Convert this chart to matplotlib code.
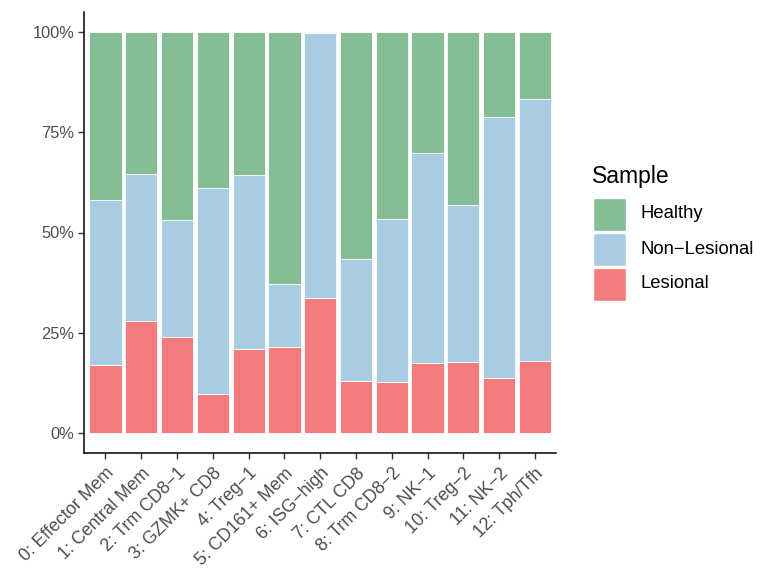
import numpy as np
import matplotlib
matplotlib.use("Agg")
import matplotlib.pyplot as plt
from matplotlib.patches import Rectangle
from matplotlib.ticker import FuncFormatter

plt.rcParams['font.family'] = ['Liberation Sans', 'DejaVu Sans']

clusters = ["0: Effector Mem", "1: Central Mem", "2: Trm CD8\u22121", "3: GZMK+ CD8",
            "4: Treg\u22121", "5: CD161+ Mem", "6: ISG\u2212high", "7: CTL CD8",
            "8: Trm CD8\u22122", "9: NK\u22121", "10: Treg\u22122", "11: NK\u22122",
            "12: Tph/Tfh"]
# fractions (%) per cluster, stacked bottom to top
lesional = [17.0, 27.9, 24.0, 9.8, 21.0, 21.5, 33.7, 13.0, 12.8, 17.5, 17.6, 13.8, 18.0]
non_lesional_top = [58.1, 64.7, 53.2, 61.0, 64.4, 37.2, 99.7, 43.4, 53.3, 69.8, 56.8, 78.8, 83.4]
lesional = np.array(lesional)
non_lesional = np.array(non_lesional_top) - lesional
healthy = 100 - lesional - non_lesional

samples = ["Healthy", "Non\u2212Lesional", "Lesional"]
colors = {"Healthy": "#85BE95", "Non\u2212Lesional": "#A8CDE2", "Lesional": "#F47B7B"}

fig = plt.figure(figsize=(7.61, 5.69), dpi=100)
ax = fig.add_axes([84/761, 1-453/569, (556.4-84)/761, (453-12)/569])

x = np.arange(1, len(clusters)+1)
kw = dict(width=0.9, edgecolor="white", linewidth=0.6)
ax.bar(x, lesional, color=colors["Lesional"], **kw)
ax.bar(x, non_lesional, bottom=lesional, color=colors["Non\u2212Lesional"], **kw)
ax.bar(x, healthy, bottom=lesional+non_lesional, color=colors["Healthy"], **kw)

ax.set_xlim(0.4, len(clusters)+0.6)
ax.set_ylim(-5, 105)
ax.set_yticks([0, 25, 50, 75, 100])
ax.yaxis.set_major_formatter(FuncFormatter(lambda v, p: "%d%%" % v))
ax.set_xticks(x)
ax.set_xticklabels(clusters, rotation=45, ha="right", rotation_mode="anchor")
for s in ["top", "right"]:
    ax.spines[s].set_visible(False)
for s in ["left", "bottom"]:
    ax.spines[s].set_linewidth(1.1)
ax.tick_params(axis="both", length=4, width=1.0, color="#333333",
               labelcolor="#4D4D4D", pad=3)
ax.tick_params(axis="y", labelsize=11.8)
ax.tick_params(axis="x", labelsize=12.8, pad=4.5)

# legend
fig.text(592/761, 1-177/569, "Sample", fontsize=16.5, va="center", ha="left", color="black")
key_tops = [197.5, 232.5, 267.5]
for name, top in zip(samples, key_tops):
    fig.add_artist(Rectangle((593/761, 1-(top+33)/569), 33/761, 33/569,
                             transform=fig.transFigure, facecolor=colors[name],
                             edgecolor="white", linewidth=1))
    fig.text(640/761, 1-(top+16.5)/569, name, fontsize=13.3, va="center", ha="left",
             color="black")

fig.savefig("out.png", dpi=100)
